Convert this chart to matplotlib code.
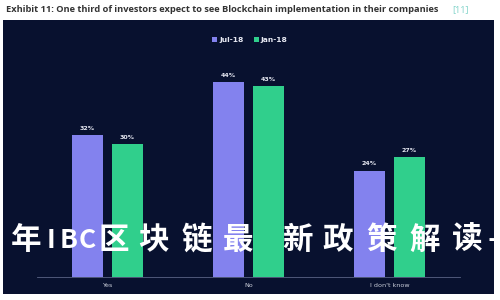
import matplotlib
matplotlib.use("Agg")
import matplotlib.pyplot as plt
import numpy as np
from matplotlib.patches import Rectangle

categories = ["Yes", "No", "I don't know"]
series_names = ["Jul-18", "Jan-18"]
jul18 = [32, 44, 24]
jan18 = [30, 43, 27]
title = "Exhibit 11: One third of investors expect to see Blockchain implementation in their companies"
watermark_chars = ["年", "I", "B", "C", "区", "块", "链", "最", "新", "政", "策", "解", "读", "—"]

PANEL = "#08112f"
C_JUL = "#8382ee"
C_JAN = "#30cf8c"

fig = plt.figure(figsize=(5, 3), dpi=100)
fig.patch.set_facecolor("white")

# dark panel
panel = Rectangle((3/500, 1-294/300), 491/500, 274/300, transform=fig.transFigure,
                  facecolor=PANEL, edgecolor="none", zorder=-5)
fig.patches.append(panel)

ax = fig.add_axes([37/500, 1-277/300, 423/500, 221.6/300])
ax.set_zorder(1)
ax.patch.set_alpha(0)

x = np.arange(len(categories))
w = 31/141
off = 20/141
b1 = ax.bar(x - off, jul18, w, color=C_JUL, label=series_names[0], zorder=2)
b2 = ax.bar(x + off, jan18, w, color=C_JAN, label=series_names[1], zorder=2)
for bars, vals in ((b1, jul18), (b2, jan18)):
    for r, v in zip(bars, vals):
        ax.annotate(f"{v}%", (r.get_x() + r.get_width()/2, r.get_height()),
                    xytext=(0, 3), textcoords="offset points", ha="center", va="bottom",
                    fontsize=4.5, color="#e6e8f2", fontweight="bold")

ax.set_xlim(-0.5, 2.5)
ax.set_ylim(0, 50)
ax.set_xticks(x)
ax.set_xticklabels(categories, fontsize=4.6, color="#c8ccd8")
ax.tick_params(axis="x", length=0, pad=4)
ax.set_yticks([])
for s in ["top", "right", "left"]:
    ax.spines[s].set_visible(False)
ax.spines["bottom"].set_color("#5a6384")
ax.spines["bottom"].set_linewidth(0.6)

leg = fig.legend(handles=[b1, b2], labels=series_names, loc="center", bbox_to_anchor=(0.5, 1-40/300),
                 ncol=2, frameon=False, fontsize=5.4, handlelength=0.6, handleheight=0.6,
                 handletextpad=0.3, columnspacing=1.4, labelcolor="#e6e8f2")
for t in leg.get_texts():
    t.set_fontweight("bold")

fig.text(6/500, 1-10/300, title, fontsize=6.7, fontweight="bold", color="#333333",
         va="center", ha="left", family="Open Sans")
fig.text(452/500, 1-10/300, "[11]", fontsize=6.5, color="#7fd3c8", va="center", ha="left",
         family="Open Sans")

# watermark overlay
wx = [26, 51, 69, 87, 114, 153, 197, 238, 297, 338, 382, 425, 467, 501]
for ch, px in zip(watermark_chars, wx):
    t = fig.text(px/500, 1-240/300, ch, fontsize=22 if ord(ch) > 255 else 19, fontweight="bold",
                 color="white", ha="center", va="center", family=["Noto Sans CJK SC", "DejaVu Sans"])
    t.set_zorder(5)

fig.savefig("out.png", dpi=100, facecolor="white")
